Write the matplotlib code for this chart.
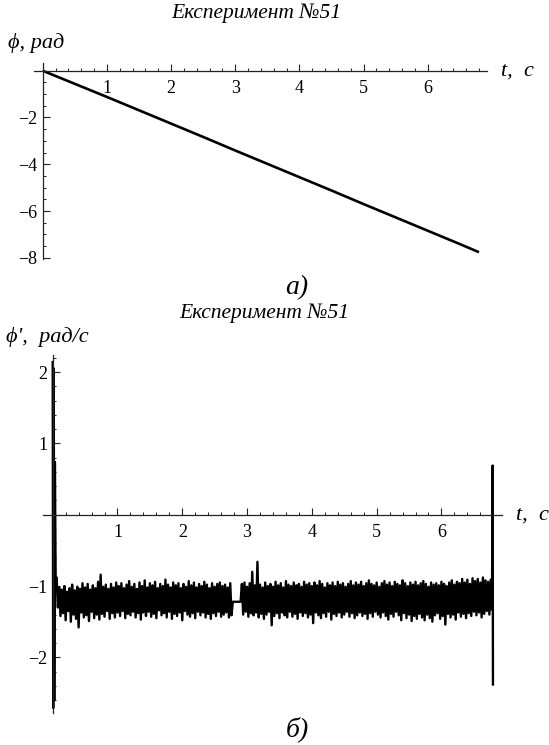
import numpy as np
import matplotlib
matplotlib.use("Agg")
import matplotlib.pyplot as plt
from matplotlib.ticker import FixedLocator, MultipleLocator

W, H = 549, 745

# ---- panel a: angle phi(t) ----
t_phi = [0.0, 0.5, 1.0, 1.5, 2.0, 2.5, 3.0, 3.5, 4.0, 4.5, 5.0, 5.5, 6.0, 6.5, 6.8]
phi = [0.0, -0.56, -1.12, -1.69, -2.26, -2.83, -3.41, -3.98, -4.55, -5.12,
       -5.70, -6.27, -6.84, -7.41, -7.76]

# ---- panel b: angular velocity phi'(t) ----
# transient at the start
t_start = [0.0, 0.008, 0.016, 0.024, 0.034, 0.046]
w_start = [2.14, -2.71, 2.05, -2.60, 0.74, -0.95]

# noisy plateau, sampled every 0.02 s from t = 0.06
DT = 0.02
T0 = 0.06
w_seg1 = [
    -0.88, -1.30, -1.02, -1.42, -1.05, -1.38, -1.00, -1.48, -1.08, -1.35,
    -1.03, -1.50, -0.98, -1.40, -1.06, -1.46, -1.01, -1.58, -1.04, -1.37,
    -0.96, -1.44, -1.02, -1.41, -0.97, -1.49, -1.05, -1.36, -0.99, -1.45,
    -1.03, -1.40, -0.94, -1.47, -0.84, -1.39, -1.01, -1.43, -0.98, -1.35,
    -1.04, -1.46, -0.97, -1.38, -1.02, -1.44, -0.95, -1.37, -1.00, -1.42,
    -0.96, -1.35, -1.03, -1.45, -0.98, -1.39, -0.93, -1.41, -1.01, -1.36,
    -0.97, -1.44, -1.04, -1.38, -0.95, -1.47, -1.00, -1.37, -0.92, -1.42,
    -1.02, -1.36, -0.96, -1.43, -0.99, -1.39, -0.94, -1.45, -1.03, -1.34,
    -0.97, -1.41, -1.00, -1.38, -0.91, -1.44, -0.98, -1.36, -1.02, -1.46,
    -0.95, -1.39, -0.99, -1.42, -0.96, -1.37, -1.03, -1.48, -0.97, -1.35,
    -1.01, -1.40, -0.93, -1.43, -0.99, -1.38, -0.95, -1.45, -1.02, -1.36,
    -0.97, -1.41, -1.00, -1.37, -0.94, -1.44, -0.98, -1.39, -1.03, -1.46,
    -0.96, -1.38, -1.01, -1.42, -0.97, -1.36, -0.95, -1.43, -1.00, -1.40,
    -0.98, -1.37, -1.02, -1.44, -0.96, -1.41,
]
# dropout (flat) around t = 2.8 s
w_gap = [-1.22, -1.22, -1.22, -1.22, -1.22, -1.22, -1.22]
w_seg2 = [
    -0.97, -1.40, -0.95, -1.36, -1.01, -1.43, -0.96, -1.38, -0.80, -1.41,
    -0.99, -1.37, -0.66, -1.44, -0.98, -1.39, -1.02, -1.46, -0.95, -1.40,
    -1.00, -1.36, -0.97, -1.55, -1.01, -1.42, -0.94, -1.38, -0.99, -1.45,
    -0.96, -1.37, -1.02, -1.41, -0.93, -1.44, -0.98, -1.36, -1.00, -1.43,
    -0.95, -1.39, -0.99, -1.46, -0.97, -1.37, -1.01, -1.42, -0.94, -1.38,
    -0.98, -1.44, -0.96, -1.40, -1.00, -1.52, -0.95, -1.37, -0.99, -1.41,
    -0.93, -1.45, -0.97, -1.38, -1.02, -1.43, -0.96, -1.36, -0.99, -1.47,
    -0.95, -1.39, -1.00, -1.42, -0.94, -1.37, -0.98, -1.44, -0.96, -1.40,
    -1.01, -1.36, -0.97, -1.43, -0.93, -1.38, -0.99, -1.45, -0.95, -1.41,
    -0.98, -1.37, -0.94, -1.42, -1.00, -1.39, -0.96, -1.46, -0.92, -1.38,
    -0.97, -1.43, -0.99, -1.36, -0.95, -1.40, -1.01, -1.44, -0.96, -1.37,
    -0.93, -1.42, -0.98, -1.47, -0.95, -1.39, -1.00, -1.43, -0.94, -1.36,
    -0.97, -1.41, -0.99, -1.48, -0.92, -1.38, -0.96, -1.45, -1.00, -1.40,
    -0.95, -1.49, -0.98, -1.42, -0.94, -1.46, -0.99, -1.39, -0.96, -1.44,
    -0.93, -1.48, -0.97, -1.40, -1.01, -1.45, -0.95, -1.50, -0.98, -1.41,
    -0.96, -1.38, -0.99, -1.46, -0.94, -1.42, -0.97, -1.54, -1.00, -1.39,
    -0.95, -1.44, -0.92, -1.40, -0.98, -1.47, -0.94, -1.37, -0.96, -1.43,
    -0.90, -1.39, -0.95, -1.45, -0.91, -1.38, -0.97, -1.42, -0.89, -1.36,
    -0.93, -1.41, -0.90, -1.37, -0.95, -1.44, -0.88, -1.39, -0.92, -1.35,
    -0.94, -1.40, -0.91, -1.33,
]
# spike at the end of the record
t_end = [6.79, 6.795]
w_end = [0.69, -2.38]

SERIF = ["Liberation Serif", "DejaVu Serif"]
plt.rcParams["font.family"] = SERIF
plt.rcParams["axes.unicode_minus"] = True


def px_rect(left, right, top, bottom):
    return [left / W, 1 - bottom / H, (right - left) / W, (bottom - top) / H]


def style_axes(ax, xmaj, ymaj, xmin_step, ymin_step):
    for s in ["top", "right"]:
        ax.spines[s].set_visible(False)
    for s in ["left", "bottom"]:
        ax.spines[s].set_position(("data", 0))
        ax.spines[s].set_color("#222222")
        ax.spines[s].set_linewidth(0.9)
    ax.set_facecolor("none")
    ax.xaxis.set_major_locator(FixedLocator(xmaj))
    ax.yaxis.set_major_locator(FixedLocator(ymaj))
    ax.xaxis.set_minor_locator(MultipleLocator(xmin_step))
    ax.yaxis.set_minor_locator(MultipleLocator(ymin_step))
    ax.tick_params(which="major", direction="in", length=5, width=0.8,
                   color="#222222", labelsize=13)
    ax.tick_params(which="minor", direction="in", length=2.5, width=0.7,
                   color="#222222")
    ax.tick_params(axis="x", which="major", pad=7)
    ax.tick_params(axis="y", which="major", pad=4)
    ax.set_xticklabels([str(v) for v in xmaj])
    ax.set_yticklabels(["\u2212" + str(-v) if v < 0 else str(v) for v in ymaj])


fig = plt.figure(figsize=(W / 100, H / 100), dpi=100)
fig.patch.set_facecolor("white")

# panel a
ax1 = fig.add_axes(px_rect(33.7, 486.7, 63, 259))
ax1.plot(t_phi, phi, color="black", lw=1.9, solid_capstyle="butt")
ax1.set_xlim(-0.14, 6.92)
ax1.set_ylim(-8.05, 0.33)
style_axes(ax1, [1, 2, 3, 4, 5, 6], [-8, -6, -4, -2], 0.2, 0.5)

# panel b
t_noise = T0 + DT * np.arange(len(w_seg1) + len(w_gap) + len(w_seg2))
t_all = np.concatenate([t_start, t_noise, t_end])
w_all = np.concatenate([w_start, w_seg1, w_gap, w_seg2, w_end])

ax2 = fig.add_axes(px_rect(43.3, 501.7, 355, 713))
ax2.plot(t_all, w_all, color="black", lw=1.7)
ax2.set_xlim(-0.145, 6.93)
ax2.set_ylim(-2.78, 2.24)
style_axes(ax2, [1, 2, 3, 4, 5, 6], [-2, -1, 1, 2], 0.2, 0.2)

# titles and labels
title_kw = dict(fontsize=15.5, style="italic", ha="center", va="center")
fig.text(256 / W, 1 - 13 / H, "Експеримент №51", **title_kw)
fig.text(264 / W, 1 - 313 / H, "Експеримент №51", **title_kw)

lab_kw = dict(fontsize=16, style="italic", ha="left", va="center")
fig.text(8 / W, 1 - 43 / H, "ϕ, рад", **lab_kw)
fig.text(6 / W, 1 - 337 / H, "ϕ',  рад/с", **lab_kw)
fig.text(501 / W, 1 - 71 / H, "t,  с", **lab_kw)
fig.text(516 / W, 1 - 515 / H, "t,  с", **lab_kw)

fig.text(297 / W, 1 - 288 / H, "а)", fontsize=20, style="italic",
         ha="center", va="center")
fig.text(297 / W, 1 - 729 / H, "б)", fontsize=20, style="italic",
         ha="center", va="center")

fig.savefig("out.png", dpi=100, facecolor="white")
